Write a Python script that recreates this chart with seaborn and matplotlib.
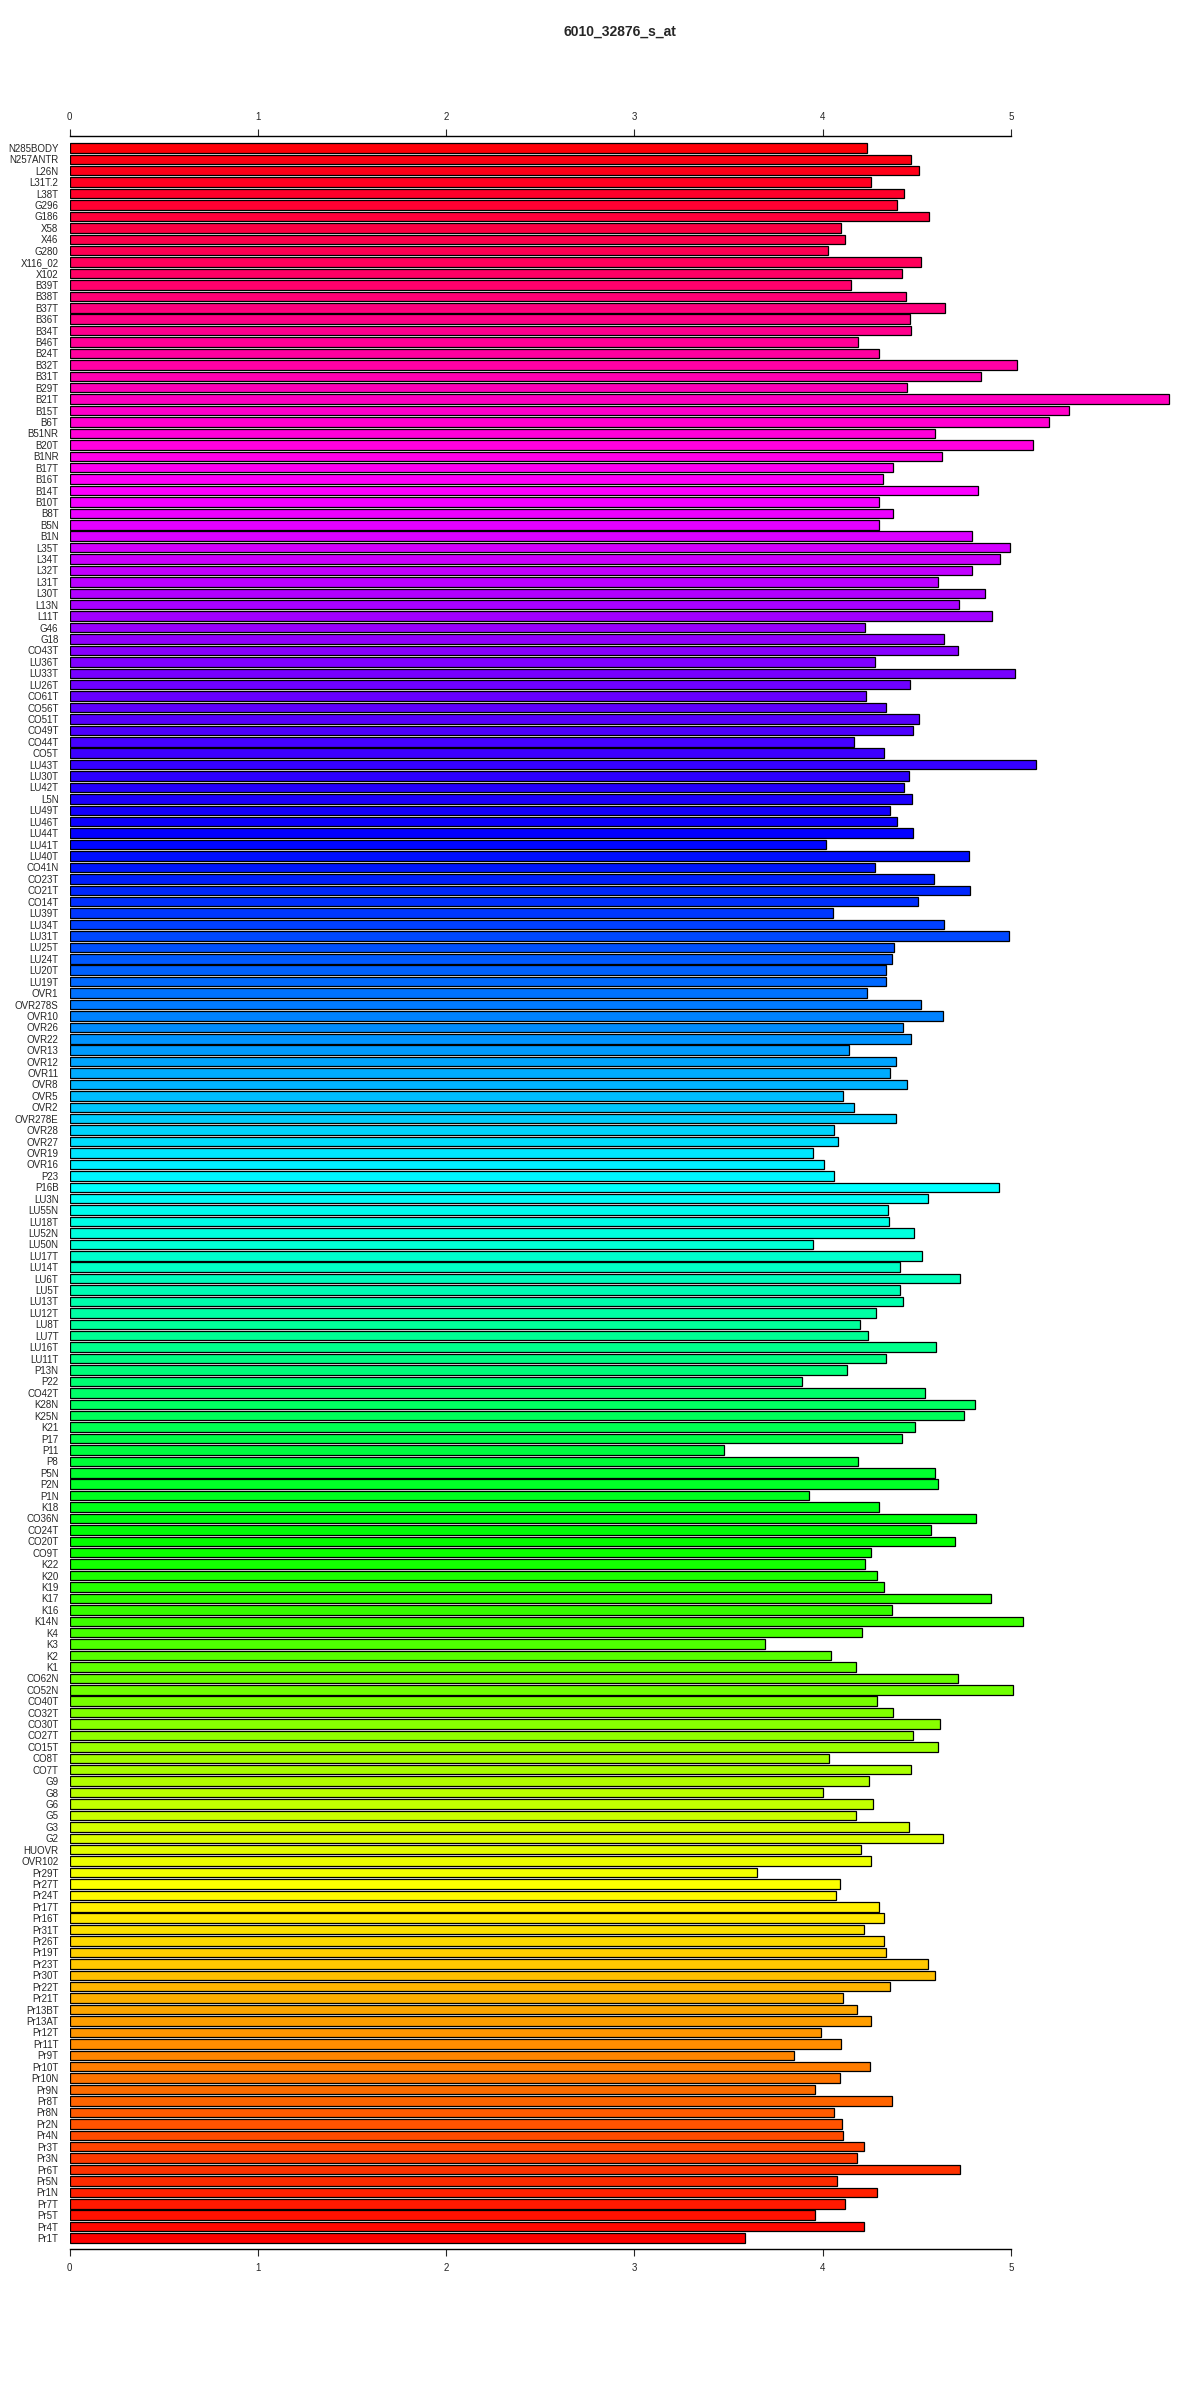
import numpy as np
import pandas as pd
import matplotlib
matplotlib.use("Agg")
import matplotlib.pyplot as plt
import matplotlib.colors as mcolors
import seaborn as sns

title = "6010_32876_s_at"

samples = [
    "N285BODY", "N257ANTR", "L26N", "L31T.2", "L38T", "G296", "G186", "X58", "X46", "G280",
    "X116_02", "X102", "B39T", "B38T", "B37T", "B36T", "B34T", "B46T", "B24T", "B32T",
    "B31T", "B29T", "B21T", "B15T", "B6T", "B51NR", "B20T", "B1NR", "B17T", "B16T",
    "B14T", "B10T", "B8T", "B5N", "B1N", "L35T", "L34T", "L32T", "L31T", "L30T",
    "L13N", "L11T", "G46", "G18", "CO43T", "LU36T", "LU33T", "LU26T", "CO61T", "CO56T",
    "CO51T", "CO49T", "CO44T", "CO5T", "LU43T", "LU30T", "LU42T", "L5N", "LU49T", "LU46T",
    "LU44T", "LU41T", "LU40T", "CO41N", "CO23T", "CO21T", "CO14T", "LU39T", "LU34T", "LU31T",
    "LU25T", "LU24T", "LU20T", "LU19T", "OVR1", "OVR278S", "OVR10", "OVR26", "OVR22", "OVR13",
    "OVR12", "OVR11", "OVR8", "OVR5", "OVR2", "OVR278E", "OVR28", "OVR27", "OVR19", "OVR16",
    "P23", "P16B", "LU3N", "LU55N", "LU18T", "LU52N", "LU50N", "LU17T", "LU14T", "LU6T",
    "LU5T", "LU13T", "LU12T", "LU8T", "LU7T", "LU16T", "LU11T", "P13N", "P22", "CO42T",
    "K28N", "K25N", "K21", "P17", "P11", "P8", "P5N", "P2N", "P1N", "K18",
    "CO36N", "CO24T", "CO20T", "CO9T", "K22", "K20", "K19", "K17", "K16", "K14N",
    "K4", "K3", "K2", "K1", "CO62N", "CO52N", "CO40T", "CO32T", "CO30T", "CO27T",
    "CO15T", "CO8T", "CO7T", "G9", "G8", "G6", "G5", "G3", "G2", "HUOVR",
    "OVR102", "Pr29T", "Pr27T", "Pr24T", "Pr17T", "Pr16T", "Pr31T", "Pr26T", "Pr19T", "Pr23T",
    "Pr30T", "Pr22T", "Pr21T", "Pr13BT", "Pr13AT", "Pr12T", "Pr11T", "Pr9T", "Pr10T", "Pr10N",
    "Pr9N", "Pr8T", "Pr8N", "Pr2N", "Pr4N", "Pr3T", "Pr3N", "Pr6T", "Pr5N", "Pr1N",
    "Pr7T", "Pr5T", "Pr4T", "Pr1T",
]

expression = [
    4.236, 4.470, 4.510, 4.257, 4.433, 4.395, 4.566, 4.098, 4.119, 4.028,
    4.523, 4.422, 4.151, 4.443, 4.651, 4.465, 4.470, 4.188, 4.300, 5.034,
    4.842, 4.449, 5.842, 5.310, 5.204, 4.598, 5.119, 4.635, 4.374, 4.321,
    4.826, 4.300, 4.374, 4.300, 4.794, 4.996, 4.943, 4.794, 4.613, 4.863,
    4.725, 4.901, 4.225, 4.645, 4.720, 4.278, 5.023, 4.465, 4.230, 4.337,
    4.512, 4.480, 4.167, 4.326, 5.135, 4.459, 4.433, 4.475, 4.358, 4.395,
    4.480, 4.018, 4.778, 4.278, 4.592, 4.784, 4.507, 4.055, 4.645, 4.991,
    4.379, 4.369, 4.337, 4.337, 4.236, 4.523, 4.640, 4.427, 4.470, 4.140,
    4.390, 4.358, 4.449, 4.108, 4.167, 4.390, 4.060, 4.082, 3.949, 4.007,
    4.060, 4.938, 4.560, 4.348, 4.353, 4.486, 3.949, 4.528, 4.411, 4.730,
    4.411, 4.427, 4.284, 4.199, 4.241, 4.603, 4.337, 4.129, 3.890, 4.544,
    4.810, 4.752, 4.491, 4.422, 3.475, 4.188, 4.598, 4.613, 3.927, 4.300,
    4.816, 4.576, 4.704, 4.257, 4.225, 4.289, 4.326, 4.895, 4.369, 5.066,
    4.209, 3.693, 4.044, 4.177, 4.720, 5.012, 4.289, 4.374, 4.624, 4.480,
    4.613, 4.034, 4.470, 4.246, 4.002, 4.268, 4.177, 4.459, 4.640, 4.204,
    4.257, 3.651, 4.092, 4.071, 4.300, 4.326, 4.220, 4.326, 4.337, 4.560,
    4.598, 4.358, 4.108, 4.183, 4.257, 3.991, 4.098, 3.848, 4.252, 4.092,
    3.959, 4.369, 4.060, 4.103, 4.108, 4.220, 4.183, 4.730, 4.076, 4.289,
    4.119, 3.959, 4.220, 3.587,
]

df = pd.DataFrame({"sample": samples, "value": expression})
n = len(df)

# rainbow colours, red at the bottom bar wrapping round to red at the top
hues = [(n - 1 - i) / n for i in range(n)]
colors = [mcolors.hsv_to_rgb((h, 1.0, 1.0)) for h in hues]

sns.set_style("white")
plt.rcParams["font.family"] = ["Liberation Sans", "DejaVu Sans"]

fig = plt.figure(figsize=(12, 24), dpi=100)
ax = fig.add_axes([69.6 / 1200, 1 - 2249 / 2400, (1171 - 69.6) / 1200, (2249 - 136) / 2400])

sns.barplot(data=df, x="value", y="sample", hue="sample", palette=colors, legend=False,
            orient="h", width=0.83, saturation=1, edgecolor="black", linewidth=0.9, ax=ax)

ax.set_xlim(0, 5.85)
ax.set_ylim(n - 1 + 0.96, -1.04)
ax.set_xlabel("")
ax.set_ylabel("")

ax.set_xticks([0, 1, 2, 3, 4, 5])
ax.xaxis.set_ticks_position("both")
ax.tick_params(axis="x", which="both", direction="out", length=5, width=0.8,
               labelsize=7, pad=5, labeltop=True, labelbottom=True)
ax.tick_params(axis="y", length=0, pad=8, labelsize=7)

for side in ["left", "right"]:
    ax.spines[side].set_visible(False)
for side in ["top", "bottom"]:
    ax.spines[side].set_bounds(0, 5)
    ax.spines[side].set_linewidth(1.0)
    ax.spines[side].set_color("black")

fig.text((69.6 + 1171) / 2 / 1200, 1 - 32 / 2400, title, ha="center", va="center",
         fontsize=10, fontweight="bold")

fig.savefig("out.png", dpi=100)
